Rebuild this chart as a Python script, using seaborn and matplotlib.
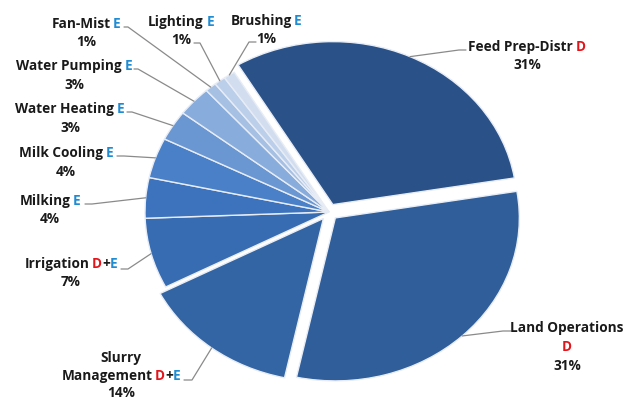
import math
import matplotlib
matplotlib.use("Agg")
import seaborn as sns
import matplotlib.pyplot as plt

# energy use shares on the farm, D = diesel, E = electricity
categories = ["Feed Prep-Distr", "Land Operations", "Slurry Management", "Irrigation",
              "Milking", "Milk Cooling", "Water Heating", "Water Pumping",
              "Fan-Mist", "Lighting", "Brushing"]
shares = [31, 31, 14, 7, 4, 4, 3, 3, 1, 1, 1]
sources = ["D", "D", "D+E", "D+E", "E", "E", "E", "E", "E", "E", "E"]

colors = ["#2a5289", "#2f5e9b", "#3364a4", "#386cb2", "#3d73bd", "#4a80c8",
          "#6a96d2", "#88acdc", "#a6c0e4", "#bccfea", "#d2deef"]
explode = [0.05, 0.05, 0.05, 0, 0, 0, 0, 0, 0, 0, 0]

W, H = 633, 402
CX, CY, RX, RY = 329, 213, 184, 163
SRC_COL = {"D": "#e5141b", "E": "#1e8bd3", "+": "#1a1a1a"}

# label layout in picture pixels: line centres, leader start and elbow
layout = {
    "Feed Prep-Distr":   dict(x=527, y=[47, 65], lead=(466, 51), elbow=(459, 51)),
    "Land Operations":   dict(x=567, y=[328, 347, 366], lead=(511, 332), elbow=(503, 332), src_below=True),
    "Slurry Management": dict(x=121, y=[358, 376, 393], lead=(184, 381), elbow=(192, 381), split=True),
    "Irrigation":        dict(x=71, y=[264, 282], lead=(121, 270), elbow=(128, 270)),
    "Milking":           dict(x=50, y=[201, 219], lead=(85, 205), elbow=(92, 205)),
    "Milk Cooling":      dict(x=66, y=[153, 172], lead=(117, 157), elbow=(124, 157)),
    "Water Heating":     dict(x=70, y=[109, 128], lead=(127, 113), elbow=(132, 113)),
    "Water Pumping":     dict(x=74, y=[66, 85], lead=(134, 70), elbow=(138, 70)),
    "Fan-Mist":          dict(x=86, y=[24, 42], lead=(124, 28), elbow=(128, 28)),
    "Lighting":          dict(x=181, y=[22, 40], lead=(194, 44), elbow=(200, 44)),
    "Brushing":          dict(x=266, y=[21, 39], lead=(256, 43), elbow=(249, 43)),
}


def to_data(px, py):
    return (px - CX) / RX, (CY - py) / RY


sns.set_theme(style="white")
plt.rcParams["font.family"] = ["Open Sans", "DejaVu Sans"]

fig = plt.figure(figsize=(W / 100, H / 100), dpi=100)
ax = fig.add_axes([0, 0, 1, 1])
wedges, _ = ax.pie(shares, colors=colors, explode=explode, startangle=121,
                   counterclock=False,
                   wedgeprops=dict(edgecolor="#e8edf5", linewidth=1.0))
ax.set_aspect("auto")
ax.set_xlim(to_data(0, 0)[0], to_data(W, 0)[0])
ax.set_ylim(to_data(0, H)[1], to_data(0, 0)[1])
ax.axis("off")

fig.canvas.draw()
renderer = fig.canvas.get_renderer()
font = dict(fontsize=9.8, fontweight="bold")


def width_of(s):
    t = ax.text(0, 0, s, **font)
    w = t.get_window_extent(renderer).width
    t.remove()
    return w


space = 0.75 * (width_of("x x") - width_of("xx"))


def draw_line(parts, xc, yc):
    # parts: list of (text, colour, gap_before)
    widths = [width_of(p[0]) for p in parts]
    total = sum(widths) + sum(space for p in parts if p[2])
    x = xc - total / 2
    for (s, c, gap), w in zip(parts, widths):
        if gap:
            x += space
        ax.text(*to_data(x, yc), s, color=c, ha="left", va="center", **font)
        x += w


def src_parts(src, gap=True):
    return [(ch, SRC_COL[ch], gap and i == 0) for i, ch in enumerate(src)]


for name, share, src, wedge in zip(categories, shares, sources, wedges):
    lay = layout[name]
    ys = lay["y"]
    if lay.get("split"):
        first, second = name.split(" ", 1)
        draw_line([(first, "#1a1a1a", False)], lay["x"], ys[0])
        draw_line([(second, "#1a1a1a", False)] + src_parts(src), lay["x"], ys[1])
    elif lay.get("src_below"):
        draw_line([(name, "#1a1a1a", False)], lay["x"], ys[0])
        draw_line(src_parts(src, gap=False), lay["x"], ys[1])
    else:
        draw_line([(name, "#1a1a1a", False)] + src_parts(src), lay["x"], ys[0])
    draw_line([(f"{share}%", "#1a1a1a", False)], lay["x"], ys[-1])

    # leader line to the middle of the wedge rim
    ang = math.radians((wedge.theta1 + wedge.theta2) / 2)
    ex = wedge.center[0] + wedge.r * math.cos(ang)
    ey = wedge.center[1] + wedge.r * math.sin(ang)
    p0 = to_data(*lay["lead"])
    p1 = to_data(*lay["elbow"])
    ax.plot([p0[0], p1[0], ex], [p0[1], p1[1], ey], color="#8a8a8a", lw=0.9)

fig.savefig("out.png", dpi=100)
